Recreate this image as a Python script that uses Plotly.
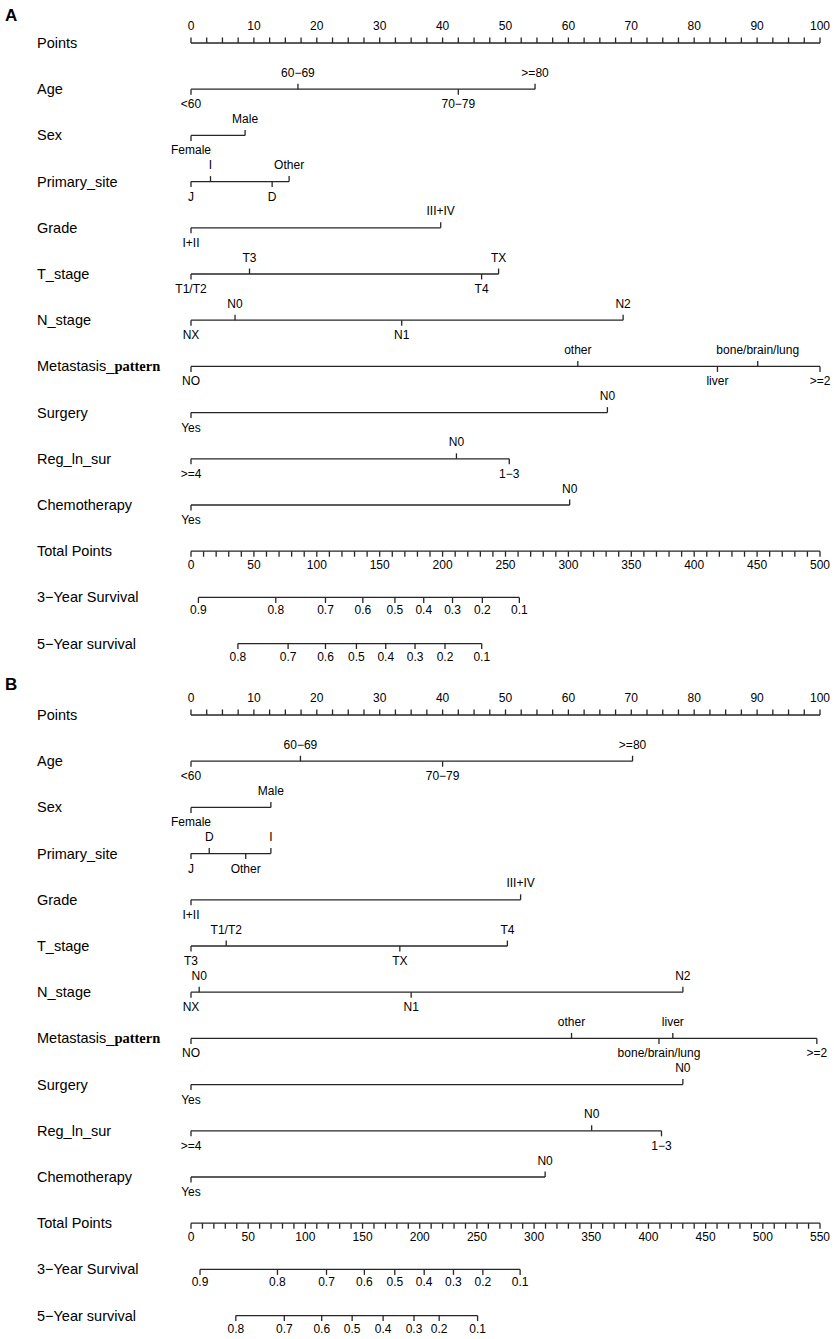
import plotly.graph_objects as go

# ---------------- data ----------------
points_labels = [0, 10, 20, 30, 40, 50, 60, 70, 80, 90, 100]
points_minor_step = 2.5
total_minor_step = 10

row_names = ["Age", "Sex", "Primary_site", "Grade", "T_stage", "N_stage",
             "Metastasis_pattern", "Surgery", "Reg_ln_sur", "Chemotherapy"]

# Panel A (levels ordered by position; points on 0-100 scale)
A_age_levels = ["<60", "60−69", "70−79", ">=80"]
A_age_pts = [0, 17.0, 42.5, 54.7]
A_sex_levels = ["Female", "Male"]
A_sex_pts = [0, 8.6]
A_site_levels = ["J", "I", "D", "Other"]
A_site_pts = [0, 3.1, 12.9, 15.6]
A_grade_levels = ["I+II", "III+IV"]
A_grade_pts = [0, 39.7]
A_t_levels = ["T1/T2", "T3", "T4", "TX"]
A_t_pts = [0, 9.3, 46.2, 48.9]
A_n_levels = ["NX", "N0", "N1", "N2"]
A_n_pts = [0, 7.0, 33.5, 68.7]
A_met_levels = ["NO", "other", "liver", "bone/brain/lung", ">=2"]
A_met_pts = [0, 61.5, 83.7, 90.1, 100]
A_surg_levels = ["Yes", "N0"]
A_surg_pts = [0, 66.2]
A_reg_levels = [">=4", "N0", "1−3"]
A_reg_pts = [0, 42.2, 50.6]
A_chemo_levels = ["Yes", "N0"]
A_chemo_pts = [0, 60.2]
A_total_labels = [0, 50, 100, 150, 200, 250, 300, 350, 400, 450, 500]
A_surv3_labels = ["0.9", "0.8", "0.7", "0.6", "0.5", "0.4", "0.3", "0.2", "0.1"]
A_surv3_total = [5.9, 67.4, 106.9, 136.6, 162.1, 185.0, 207.9, 231.6, 261.0]
A_surv5_labels = ["0.8", "0.7", "0.6", "0.5", "0.4", "0.3", "0.2", "0.1"]
A_surv5_total = [37.3, 77.2, 106.9, 131.5, 154.8, 178.1, 201.9, 231.1]

# Panel B
B_age_levels = ["<60", "60−69", "70−79", ">=80"]
B_age_pts = [0, 17.4, 40.0, 70.2]
B_sex_levels = ["Female", "Male"]
B_sex_pts = [0, 12.7]
B_site_levels = ["J", "D", "Other", "I"]
B_site_pts = [0, 2.9, 8.7, 12.7]
B_grade_levels = ["I+II", "III+IV"]
B_grade_pts = [0, 52.4]
B_t_levels = ["T3", "T1/T2", "TX", "T4"]
B_t_pts = [0, 5.6, 33.2, 50.3]
B_n_levels = ["NX", "N0", "N1", "N2"]
B_n_pts = [0, 1.3, 35.0, 78.2]
B_met_levels = ["NO", "other", "bone/brain/lung", "liver", ">=2"]
B_met_pts = [0, 60.5, 74.4, 76.6, 99.5]
B_surg_levels = ["Yes", "N0"]
B_surg_pts = [0, 78.2]
B_reg_levels = [">=4", "N0", "1−3"]
B_reg_pts = [0, 63.7, 74.8]
B_chemo_levels = ["Yes", "N0"]
B_chemo_pts = [0, 56.3]
B_total_labels = [0, 50, 100, 150, 200, 250, 300, 350, 400, 450, 500, 550]
B_surv3_labels = ["0.9", "0.8", "0.7", "0.6", "0.5", "0.4", "0.3", "0.2", "0.1"]
B_surv3_total = [7.9, 75.6, 118.5, 151.6, 178.2, 203.9, 229.5, 255.2, 287.8]
B_surv5_labels = ["0.8", "0.7", "0.6", "0.5", "0.4", "0.3", "0.2", "0.1"]
B_surv5_total = [39.2, 81.6, 114.3, 140.9, 168.0, 195.0, 217.0, 250.6]

# ---------------- layout constants ----------------
W, H = 834, 1339
PX0, PX100 = 191, 820
ROW_PX = 46.2
ROW0_A, ROW0_B = 43, 715
TICK = 5.5 / ROW_PX
LBL_UP = 15.5 / ROW_PX
LBL_DN = 16.0 / ROW_PX
NUM_UP = 16.5 / ROW_PX
NUM_DN = 14.5 / ROW_PX
SURV_DN = 14.0 / ROW_PX
LINE_C = "#262626"
LW = 1.3
FONT = "Arial, Liberation Sans, sans-serif"
TXT = 12
ROWTXT = 14.5

ppu = (PX100 - PX0) / 100.0
x_lo, x_hi = -PX0 / ppu, (W - PX0) / ppu

fig = go.Figure()


def seg_trace(xs, ys, xa, ya):
    fig.add_trace(go.Scatter(x=xs, y=ys, mode="lines", xaxis=xa, yaxis=ya,
                             line=dict(color=LINE_C, width=LW), hoverinfo="skip",
                             showlegend=False, cliponaxis=False))


def text_trace(xs, ys, texts, xa, ya):
    fig.add_trace(go.Scatter(x=xs, y=ys, mode="text", text=texts, xaxis=xa, yaxis=ya,
                             textposition="middle center",
                             textfont=dict(family=FONT, size=TXT, color="black"),
                             hoverinfo="skip", showlegend=False, cliponaxis=False))


def cat_row(r, levels, pts, xa, ya):
    seg_trace([min(pts), max(pts)], [r, r], xa, ya)
    tx, ty, lx, ly = [], [], [], []
    for i, p in enumerate(pts):
        up = (i % 2 == 1)
        tx += [p, p, None]
        ty += [r, r - TICK if up else r + TICK, None]
        lx.append(p)
        ly.append(r - LBL_UP if up else r + LBL_DN)
    seg_trace(tx, ty, xa, ya)
    text_trace(lx, ly, levels, xa, ya)


def points_row(r, xa, ya):
    seg_trace([points_labels[0], points_labels[-1]], [r, r], xa, ya)
    tx, ty = [], []
    n = int(round((points_labels[-1] - points_labels[0]) / points_minor_step))
    for k in range(n + 1):
        v = points_labels[0] + k * points_minor_step
        tx += [v, v, None]
        ty += [r, r - TICK, None]
    seg_trace(tx, ty, xa, ya)
    text_trace(points_labels, [r - NUM_UP] * len(points_labels),
               [str(v) for v in points_labels], xa, ya)


def total_row(r, labels, xa, ya):
    seg_trace([labels[0], labels[-1]], [r, r], xa, ya)
    tx, ty = [], []
    n = int(round((labels[-1] - labels[0]) / total_minor_step))
    for k in range(n + 1):
        v = labels[0] + k * total_minor_step
        tx += [v, v, None]
        ty += [r, r + TICK, None]
    seg_trace(tx, ty, xa, ya)
    text_trace(labels, [r + NUM_DN] * len(labels), [str(v) for v in labels], xa, ya)


def surv_row(r, labels, tots, xa, ya):
    seg_trace([min(tots), max(tots)], [r, r], xa, ya)
    tx, ty = [], []
    for v in tots:
        tx += [v, v, None]
        ty += [r, r + TICK, None]
    seg_trace(tx, ty, xa, ya)
    text_trace(tots, [r + SURV_DN] * len(tots), labels, xa, ya)


def row_label_text(name):
    if name == "Metastasis_pattern":
        return ("Metastasis_<span style='font-family:Liberation Serif, Times New Roman, serif'>"
                "<b>pattern</b></span>")
    return name


all_labels = ["Points"] + row_names + ["Total Points", "3−Year Survival", "5−Year survival"]

panels = [
    dict(letter="A", xa="x", xt="x2", ya="y",
         cats=[(A_age_levels, A_age_pts), (A_sex_levels, A_sex_pts), (A_site_levels, A_site_pts),
               (A_grade_levels, A_grade_pts), (A_t_levels, A_t_pts), (A_n_levels, A_n_pts),
               (A_met_levels, A_met_pts), (A_surg_levels, A_surg_pts), (A_reg_levels, A_reg_pts),
               (A_chemo_levels, A_chemo_pts)],
         total=A_total_labels, s3=(A_surv3_labels, A_surv3_total), s5=(A_surv5_labels, A_surv5_total)),
    dict(letter="B", xa="x3", xt="x4", ya="y2",
         cats=[(B_age_levels, B_age_pts), (B_sex_levels, B_sex_pts), (B_site_levels, B_site_pts),
               (B_grade_levels, B_grade_pts), (B_t_levels, B_t_pts), (B_n_levels, B_n_pts),
               (B_met_levels, B_met_pts), (B_surg_levels, B_surg_pts), (B_reg_levels, B_reg_pts),
               (B_chemo_levels, B_chemo_pts)],
         total=B_total_labels, s3=(B_surv3_labels, B_surv3_total), s5=(B_surv5_labels, B_surv5_total)),
]

annotations = []
for p in panels:
    points_row(0, p["xa"], p["ya"])
    for i, (lv, pts) in enumerate(p["cats"]):
        cat_row(i + 1, lv, pts, p["xa"], p["ya"])
    n = len(p["cats"])
    total_row(n + 1, p["total"], p["xt"], p["ya"])
    surv_row(n + 2, p["s3"][0], p["s3"][1], p["xt"], p["ya"])
    surv_row(n + 3, p["s5"][0], p["s5"][1], p["xt"], p["ya"])
    for i, name in enumerate(all_labels):
        annotations.append(dict(x=35 / W, xref="paper", xanchor="left",
                                y=i, yref=p["ya"], yanchor="middle",
                                text=row_label_text(name), showarrow=False,
                                font=dict(family=FONT, size=ROWTXT, color="black")))

annotations.append(dict(x=3 / W, xref="paper", xanchor="left", y=1 - 15 / H, yref="paper",
                        yanchor="middle", text="<b>A</b>", showarrow=False,
                        font=dict(family=FONT, size=17, color="black")))
annotations.append(dict(x=3 / W, xref="paper", xanchor="left", y=1 - 684 / H, yref="paper",
                        yanchor="middle", text="<b>B</b>", showarrow=False,
                        font=dict(family=FONT, size=17, color="black")))

ax_common = dict(visible=False, showgrid=False, zeroline=False, fixedrange=True)
half = H / 2.0
A_max = A_total_labels[-1]
B_max = B_total_labels[-1]

fig.update_layout(
    width=W, height=H,
    margin=dict(l=0, r=0, t=0, b=0),
    paper_bgcolor="white", plot_bgcolor="white",
    showlegend=False,
    xaxis=dict(domain=[0, 1], range=[x_lo, x_hi], anchor="y", **ax_common),
    xaxis2=dict(domain=[0, 1], range=[x_lo * A_max / 100, x_hi * A_max / 100],
                anchor="y", overlaying="x", **ax_common),
    xaxis3=dict(domain=[0, 1], range=[x_lo, x_hi], anchor="y2", **ax_common),
    xaxis4=dict(domain=[0, 1], range=[x_lo * B_max / 100, x_hi * B_max / 100],
                anchor="y2", overlaying="x3", **ax_common),
    yaxis=dict(domain=[0.5, 1], range=[(half - ROW0_A) / ROW_PX, -ROW0_A / ROW_PX], **ax_common),
    yaxis2=dict(domain=[0, 0.5], range=[(H - ROW0_B) / ROW_PX, (half - ROW0_B) / ROW_PX], **ax_common),
    annotations=annotations,
)

fig.write_html(
    "out.html",
    config={"displayModeBar": False},
    post_script="document.body.style.margin='0';document.body.style.padding='0';"
                "document.body.style.overflow='hidden';",
)
